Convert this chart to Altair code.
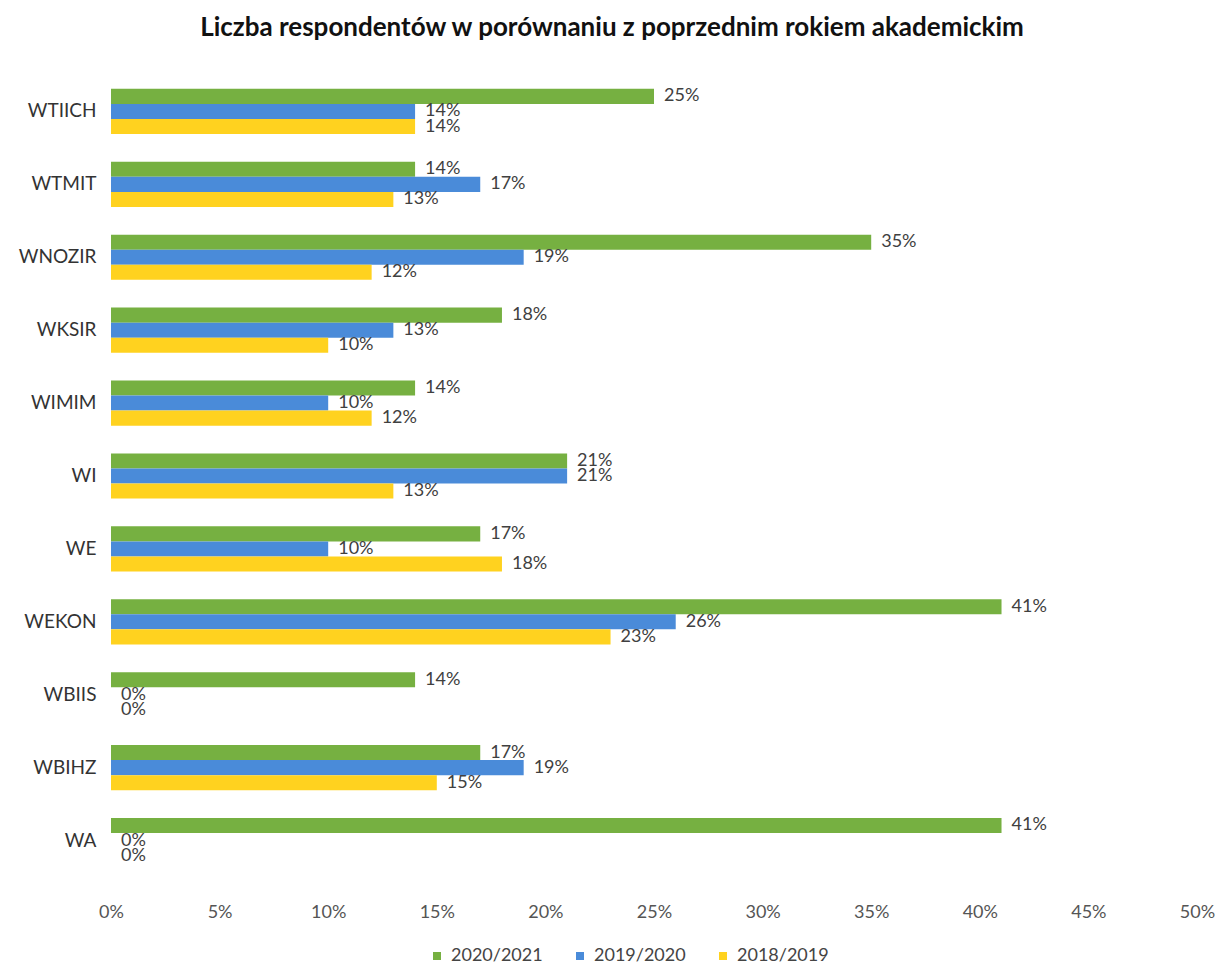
import altair as alt
import pandas as pd

categories = ["WTIICH", "WTMIT", "WNOZIR", "WKSIR", "WIMIM", "WI", "WE", "WEKON", "WBIIS", "WBIHZ", "WA"]
series = ["2020/2021", "2019/2020", "2018/2019"]
v_2020_2021 = [25, 14, 35, 18, 14, 21, 17, 41, 14, 17, 41]
v_2019_2020 = [14, 17, 19, 13, 10, 21, 10, 26, 0, 19, 0]
v_2018_2019 = [14, 13, 12, 10, 12, 13, 18, 23, 0, 15, 0]
colors = ["#76B041", "#4A8BD9", "#FFD21F"]
x_ticks = [0, 0.05, 0.1, 0.15, 0.2, 0.25, 0.3, 0.35, 0.4, 0.45, 0.5]

rows = []
for s, vals in zip(series, [v_2020_2021, v_2019_2020, v_2018_2019]):
    for c, v in zip(categories, vals):
        rows.append({"wydzial": c, "rok": s, "pct": v})
df = pd.DataFrame(rows)

base = alt.Chart(df).transform_calculate(frac="datum.pct / 100")

y_enc = alt.Y("wydzial:N", sort=categories, title=None,
              scale=alt.Scale(paddingInner=0.38, paddingOuter=0.19),
              axis=alt.Axis(domain=False, ticks=False, labelPadding=15,
                            labelFontSize=19, labelColor="#333333", labelFont="Lato"))
yoff = alt.YOffset("rok:N", sort=series, scale=alt.Scale(paddingInner=0, paddingOuter=0))
x_enc = alt.X("frac:Q", title=None,
              scale=alt.Scale(domain=[0, 0.5], nice=False),
              axis=alt.Axis(format=".0%", values=x_ticks, grid=False, domain=False, ticks=False,
                            labelFlush=False,
                            labelPadding=26, labelFontSize=18, labelColor="#555555",
                            labelFont="Lato"))

bars = base.mark_bar().encode(
    y=y_enc, yOffset=yoff, x=x_enc,
    color=alt.Color("rok:N", sort=series, title=None,
                    scale=alt.Scale(domain=series, range=colors),
                    legend=alt.Legend(orient="none", direction="horizontal",
                                      legendX=317, legendY=872,
                                      symbolType="square", symbolSize=64,
                                      symbolStrokeWidth=0,
                                      labelFontSize=18, labelColor="#444444",
                                      labelFont="Lato", columnPadding=28,
                                      labelOffset=5))
)

labels = base.mark_text(align="left", baseline="middle", dx=10, fontSize=18,
                        color="#404040", font="Lato").encode(
    y=alt.Y("wydzial:N", sort=categories),
    yOffset=yoff,
    x=alt.X("frac:Q"),
    text=alt.Text("frac:Q", format=".0%"),
)

chart = alt.layer(bars, labels).properties(
    width=1086, height=802,
    title=alt.TitleParams("Liczba respondentów w porównaniu z poprzednim rokiem akademickim",
                          fontSize=26, fontWeight="bold", font="Lato", color="#111111",
                          anchor="middle", dx=-42, offset=34),
    autosize=alt.AutoSizeParams(type="none"),
    padding={"left": 103, "top": 67, "right": 18, "bottom": 94},
).configure_view(stroke=None)

chart.save("out.html", embed_options={"renderer": "svg", "actions": False})
